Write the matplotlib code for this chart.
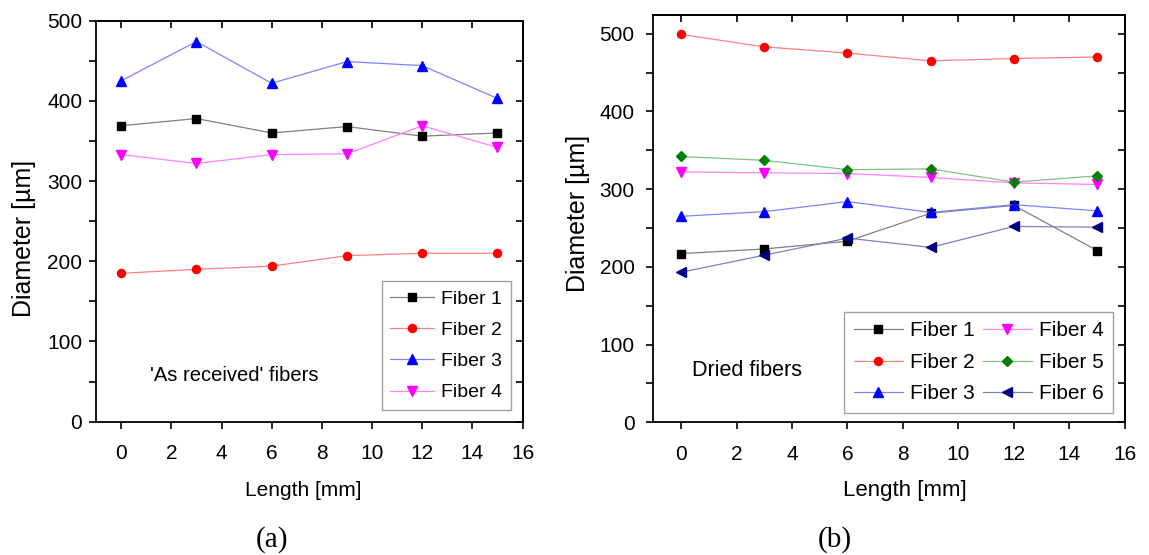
import matplotlib
matplotlib.use('Agg')
import matplotlib.pyplot as plt
from matplotlib.ticker import MultipleLocator

plt.rcParams['font.family'] = ['Liberation Sans', 'DejaVu Sans']

# Fiber diameters along the length
length = [0, 3, 6, 9, 12, 15]

# (a) as received
recv_f1 = [369, 378, 360, 368, 356, 360]
recv_f2 = [185, 190, 194, 207, 210, 210]
recv_f3 = [425, 474, 422, 449, 444, 403]
recv_f4 = [333, 322, 333, 334, 369, 342]

# (b) dried
dry_f1 = [217, 223, 233, 269, 279, 221]
dry_f2 = [499, 483, 475, 465, 468, 470]
dry_f3 = [265, 271, 284, 270, 280, 272]
dry_f4 = [322, 321, 320, 315, 308, 306]
dry_f5 = [342, 337, 325, 326, 309, 317]
dry_f6 = [193, 215, 237, 225, 252, 251]

styles = {
    'Fiber 1': dict(marker='s', color='black', line='#808080', ms=5.2),
    'Fiber 2': dict(marker='o', color='red', line='#ff8080', ms=5.8),
    'Fiber 3': dict(marker='^', color='blue', line='#8080ff', ms=7),
    'Fiber 4': dict(marker='v', color='magenta', line='#ff80ff', ms=7),
    'Fiber 5': dict(marker='D', color='green', line='#80c080', ms=5.5),
    'Fiber 6': dict(marker='<', color='navy', line='#8080c0', ms=7),
}


def draw(ax, series, ylim, ypad):
    for name, y in series:
        st = styles[name]
        ax.plot(length, y, color=st['line'], lw=0.9, marker=st['marker'],
                ms=st['ms'], mfc=st['color'], mec=st['color'], label=name)
    ax.set_xlim(-1, 16)
    ax.set_ylim(*ylim)
    ax.xaxis.set_major_locator(MultipleLocator(2))
    ax.yaxis.set_major_locator(MultipleLocator(100))
    ax.yaxis.set_minor_locator(MultipleLocator(50))
    for s in ax.spines.values():
        s.set_linewidth(1.3)
    ax.tick_params(axis='both', which='both', direction='out', length=5,
                   width=1.2, labelsize=15)
    ax.tick_params(axis='x', pad=11)
    ax.tick_params(axis='y', pad=ypad)
    # inward ticks on the opposite sides
    top = ax.secondary_xaxis('top')
    top.xaxis.set_major_locator(MultipleLocator(2))
    top.tick_params(direction='in', length=5, width=1.2, labeltop=False)
    right = ax.secondary_yaxis('right')
    right.yaxis.set_major_locator(MultipleLocator(100))
    right.yaxis.set_minor_locator(MultipleLocator(50))
    right.tick_params(which='both', direction='in', length=5, width=1.2,
                      labelright=False)
    for sec in (top, right):
        for s in sec.spines.values():
            s.set_linewidth(1.3)


fig = plt.figure(figsize=(11.49, 5.55), dpi=100)
ax1 = fig.add_axes([0.0836, 0.2402, 0.3712, 0.7225])
ax2 = fig.add_axes([0.5686, 0.2391, 0.4104, 0.7339])

draw(ax1, [('Fiber 1', recv_f1), ('Fiber 2', recv_f2),
           ('Fiber 3', recv_f3), ('Fiber 4', recv_f4)], (0, 500), 5)
draw(ax2, [('Fiber 1', dry_f1), ('Fiber 2', dry_f2), ('Fiber 3', dry_f3),
           ('Fiber 4', dry_f4), ('Fiber 5', dry_f5), ('Fiber 6', dry_f6)],
     (0, 524), 8.5)

leg_kw = dict(fancybox=False, edgecolor='#a0a0a0', framealpha=1,
              handletextpad=0.35, borderpad=0.45, borderaxespad=0)
leg1 = ax1.legend(loc='lower right', bbox_to_anchor=(0.9723, 0.029),
                  fontsize=14, handlelength=2.26, labelspacing=0.7, **leg_kw)
leg2 = ax2.legend(loc='lower right', bbox_to_anchor=(0.9756, 0.0236),
                  ncol=2, fontsize=15, handlelength=2.35, labelspacing=0.6,
                  columnspacing=0.4, **leg_kw)
for leg in (leg1, leg2):
    leg.get_frame().set_linewidth(1.0)

ax1.text(1.16, 58, "'As received' fibers", fontsize=14.5, va='center')
ax2.text(0.41, 67, 'Dried fibers', fontsize=15.5, va='center')

fig.text(0.2641, 0.1171, 'Length [mm]', fontsize=15, ha='center', va='center')
fig.text(0.7876, 0.1171, 'Length [mm]', fontsize=16, ha='center', va='center')
fig.text(0.0205, 0.5703, 'Diameter [µm]', fontsize=18, rotation=90,
         ha='center', va='center')
fig.text(0.503, 0.6162, 'Diameter [µm]', fontsize=18, rotation=90,
         ha='center', va='center')

fig.text(0.2367, 0.027, '(a)', fontsize=21, family='Liberation Serif',
         ha='center', va='center')
fig.text(0.7267, 0.027, '(b)', fontsize=21, family='Liberation Serif',
         ha='center', va='center')

fig.savefig('out.png', dpi=100)
